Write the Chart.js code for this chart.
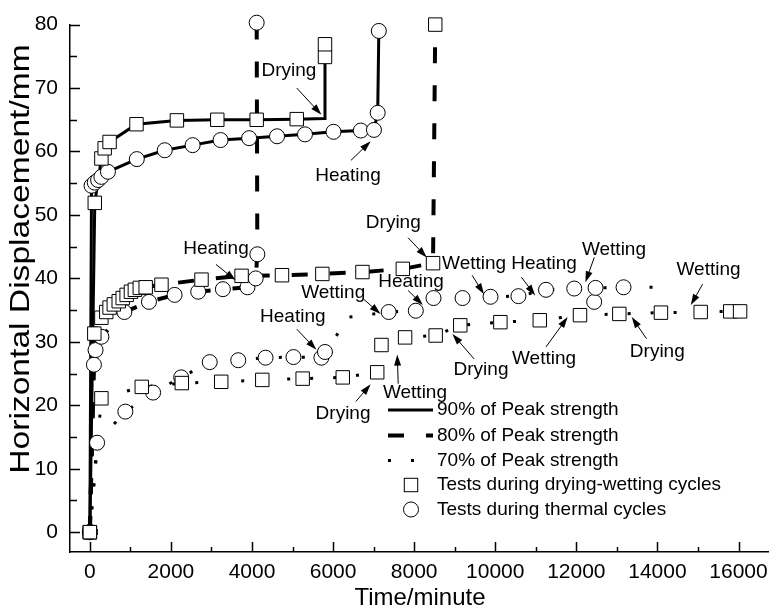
<!DOCTYPE html>
<html>
<head>
<meta charset="utf-8">
<script src="https://cdn.jsdelivr.net/npm/chart.js@4.4.0/dist/chart.umd.min.js"></script>
<style>
  html, body { margin: 0; padding: 0; background: #fff; }
  #wrap { width: 779px; height: 613px; }
</style>
</head>
<body>
<div id="wrap"><canvas id="dispChart"></canvas></div>
<script>
// ---- time (minute) / horizontal displacement (mm) ----
// 90% of peak strength
const t90DW = [0, 121, 284, 365, 486, 1150, 2147, 3143, 4115, 5103, 5790, 5800, 5800];
const d90DW = [0, 51.9, 58.9, 60.5, 61.5, 64.3, 64.9, 65.0, 65.0, 65.1, 65.2, 74.9, 76.9];
const bare90DW = [10];
const t90TH = [0, 41, 121, 203, 284, 446, 1158, 1847, 2535, 3224, 3929, 4617, 5306, 6010, 6683, 7007, 7100, 7128];
const d90TH = [0, 54.6, 55.1, 55.5, 56.0, 56.8, 58.8, 60.2, 61.0, 61.8, 62.1, 62.4, 62.7, 63.1, 63.3, 63.4, 66.1, 79.0];
const bare90TH = [];

// 80% of peak strength
const t80DW = [0, 110, 284, 405, 486, 591, 712, 810, 907, 1013, 1110, 1232, 1377, 1766, 2754, 3742, 4739, 5735, 6724, 7720, 8465, 8520];
const d80DW = [0, 31.3, 33.8, 34.7, 35.4, 35.9, 36.4, 36.9, 37.4, 37.9, 38.2, 38.5, 38.6, 39.0, 39.8, 40.4, 40.5, 40.7, 41.0, 41.5, 42.4, 80.0];
const bare80DW = [];
const t80TH = [0, 100, 140, 284, 851, 1458, 2090, 2673, 3281, 3888, 4091, 4131, 4115];
const d80TH = [0, 26.4, 28.7, 30.8, 34.7, 36.3, 37.4, 37.9, 38.3, 38.6, 40.0, 43.8, 80.3];
const bare80TH = [];

// 70% of peak strength
const t70DW = [0, 284, 1280, 2268, 3240, 4253, 5249, 6238, 7088, 7193, 7776, 8530, 9137, 10126, 11098, 12090, 13060, 14087, 15067, 15796, 16039];
const d70DW = [0, 21.1, 22.9, 23.5, 23.7, 24.0, 24.2, 24.4, 25.2, 29.5, 30.7, 31.0, 32.6, 33.1, 33.4, 34.2, 34.4, 34.6, 34.7, 34.8, 34.8];
const bare70DW = [];
const t70TH = [0, 178, 875, 1560, 2252, 2957, 3660, 4334, 5022, 5711, 5800, 6400, 7371, 8040, 8477, 9194, 9883, 10571, 11252, 11948, 12440, 12474, 13164, 13900];
const d70TH = [0, 14.1, 19.0, 22.0, 24.4, 26.8, 27.1, 27.5, 27.6, 27.5, 28.4, 33.9, 34.7, 34.9, 36.9, 36.9, 37.1, 37.2, 38.2, 38.4, 36.3, 38.5, 38.6, 38.6];
const bare70TH = [11, 23];

const xTicks = [0, 2000, 4000, 6000, 8000, 10000, 12000, 14000, 16000];
const yTicks = [0, 10, 20, 30, 40, 50, 60, 70, 80];

const legendLabels = ['90% of Peak strength', '80% of Peak strength', '70% of Peak strength',
  'Tests during drying-wetting cycles', 'Tests during thermal cycles'];

// cycle notes: text centre, arrow tail, arrow head (data units)
const noteText = ['Drying', 'Heating', 'Heating', 'Drying', 'Wetting', 'Heating', 'Wetting', 'Wetting',
  'Wetting', 'Heating', 'Heating', 'Wetting', 'Drying', 'Drying', 'Wetting', 'Drying'];
const noteAt = [[4909, 72.7], [6367, 56.1], [3111, 44.7], [7485, 48.75], [9478, 42.3], [11203, 42.3], [12928, 44.5], [15261, 41.4],
  [6002, 37.8], [7922, 39.4], [5006, 33.9], [8019, 21.9], [6245, 18.6], [9648, 25.6], [11203, 27.3], [13997, 28.4]];
const noteFrom = [[5103, 70.0], [6440, 58.6], [3111, 42.2], [7849, 46.4], [9429, 40.5], [10644, 40.2], [12442, 43.3], [15115, 39.1],
  [6756, 36.7], [7849, 38.1], [5103, 32.0], [7606, 23.4], [6561, 20.6], [9478, 27.3], [11252, 29.2], [13730, 30.5]];
const noteTo = [[5711, 65.8], [6926, 61.6], [3597, 39.7], [8311, 43.3], [9721, 37.5], [10984, 37.3], [12224, 39.4], [14824, 35.8],
  [7169, 34.4], [8214, 35.8], [5589, 28.75], [7582, 28.0], [6926, 23.3], [8943, 31.25], [11786, 33.9], [13366, 33.9]];

const FONT = '"Liberation Sans", Arial, sans-serif';
const SOLID = [], DASHED = [16, 22], DOTTED = [3, 20];

function pts(t, d) { return t.map((v, i) => ({ x: v, y: d[i] })); }
function marked(t, d, bare) { return pts(t, d).filter((p, i) => !bare.includes(i)); }

function curve(t, d, dash, width) {
  return {
    data: pts(t, d), showLine: true, borderColor: '#000', borderWidth: width,
    borderDash: dash, pointRadius: 0, tension: 0, order: 2, clip: false
  };
}
function marks(t, d, bare, style) {
  return {
    data: marked(t, d, bare), showLine: false, pointStyle: style,
    pointRadius: style === 'rect' ? 9.5 : 7.5, pointBackgroundColor: '#fff',
    pointBorderColor: '#000', pointBorderWidth: 1, order: 1, clip: false
  };
}

function arrow(ctx, x1, y1, x2, y2) {
  const a = Math.atan2(y2 - y1, x2 - x1);
  ctx.beginPath();
  ctx.moveTo(x1, y1);
  ctx.lineTo(x2 - 8 * Math.cos(a), y2 - 8 * Math.sin(a));
  ctx.stroke();
  ctx.beginPath();
  ctx.moveTo(x2, y2);
  ctx.lineTo(x2 - 11 * Math.cos(a) + 3.5 * Math.sin(a), y2 - 11 * Math.sin(a) - 3.5 * Math.cos(a));
  ctx.lineTo(x2 - 11 * Math.cos(a) - 3.5 * Math.sin(a), y2 - 11 * Math.sin(a) + 3.5 * Math.cos(a));
  ctx.closePath();
  ctx.fill();
}

// inward ticks, axis titles, notes and legend
const decor = {
  id: 'decor',
  afterDraw(chart) {
    const { ctx, chartArea: ca, scales: { x, y } } = chart;
    ctx.save();
    ctx.strokeStyle = '#000';
    ctx.fillStyle = '#000';
    ctx.lineWidth = 1.5;
    ctx.beginPath();
    for (let v = 0; v <= 16000; v += 1000) {
      const px = Math.round(x.getPixelForValue(v)) + 0.5;
      ctx.moveTo(px, ca.bottom);
      ctx.lineTo(px, ca.bottom - (v % 2000 === 0 ? 10 : 5));
    }
    for (let v = 0; v <= 80; v += 5) {
      const py = Math.round(y.getPixelForValue(v)) + 0.5;
      ctx.moveTo(ca.left, py);
      ctx.lineTo(ca.left + (v % 10 === 0 ? 10 : 7), py);
    }
    ctx.stroke();

    // axis titles
    ctx.textAlign = 'center';
    ctx.textBaseline = 'middle';
    ctx.font = '24px ' + FONT;
    ctx.fillText('Time/minute', 420, 598);
    ctx.save();
    ctx.translate(21, 259);
    ctx.rotate(-Math.PI / 2);
    ctx.scale(1.2, 1);
    ctx.font = '28px ' + FONT;
    ctx.fillText('Horizontal Displacement/mm', 0, 0);
    ctx.restore();

    // notes with arrows
    ctx.font = '19px ' + FONT;
    ctx.lineWidth = 1;
    noteText.forEach((txt, i) => {
      ctx.fillText(txt, x.getPixelForValue(noteAt[i][0]), y.getPixelForValue(noteAt[i][1]));
      arrow(ctx, x.getPixelForValue(noteFrom[i][0]), y.getPixelForValue(noteFrom[i][1]),
        x.getPixelForValue(noteTo[i][0]), y.getPixelForValue(noteTo[i][1]));
    });

    // legend
    const rows = [410, 435.5, 460.5, 485, 509.5];
    const lx0 = 388, lx1 = 433;
    [[SOLID, 3], [DASHED, 4], [DOTTED, 3]].forEach(([dash, w], i) => {
      ctx.save();
      ctx.lineWidth = w;
      ctx.setLineDash(dash);
      ctx.beginPath();
      ctx.moveTo(lx0, rows[i]);
      ctx.lineTo(lx1, rows[i]);
      ctx.stroke();
      ctx.restore();
    });
    ctx.lineWidth = 1;
    ctx.fillStyle = '#fff';
    ctx.fillRect(411 - 6.7, rows[3] - 6.7, 13.4, 13.4);
    ctx.strokeRect(411 - 6.7, rows[3] - 6.7, 13.4, 13.4);
    ctx.beginPath();
    ctx.arc(411, rows[4], 7.5, 0, Math.PI * 2);
    ctx.fill();
    ctx.stroke();
    ctx.fillStyle = '#000';
    ctx.textAlign = 'left';
    legendLabels.forEach((txt, i) => ctx.fillText(txt, 437, rows[i]));
    ctx.restore();
  }
};

const chart = new Chart(document.getElementById('dispChart').getContext('2d'), {
  type: 'scatter',
  data: {
    datasets: [
      curve(t90DW, d90DW, SOLID, 3), curve(t90TH, d90TH, SOLID, 3),
      curve(t80DW, d80DW, DASHED, 4), curve(t80TH, d80TH, DASHED, 4),
      curve(t70DW, d70DW, DOTTED, 3), curve(t70TH, d70TH, DOTTED, 3),
      marks(t90DW, d90DW, bare90DW, 'rect'), marks(t90TH, d90TH, bare90TH, 'circle'),
      marks(t80DW, d80DW, bare80DW, 'rect'), marks(t80TH, d80TH, bare80TH, 'circle'),
      marks(t70DW, d70DW, bare70DW, 'rect'), marks(t70TH, d70TH, bare70TH, 'circle')
    ]
  },
  options: {
    responsive: true,
    maintainAspectRatio: false,
    animation: false,
    devicePixelRatio: 1,
    layout: { padding: { top: 20, right: 0, left: 0, bottom: 0 } },
    plugins: { legend: { display: false }, tooltip: { enabled: false } },
    scales: {
      x: {
        type: 'linear', min: -490, max: 16740,
        grid: { display: false, drawTicks: false },
        border: { display: true, color: '#000', width: 1.5 },
        ticks: { color: '#000', padding: 8, font: { family: FONT, size: 21 }, callback: v => String(v) },
        afterBuildTicks: s => { s.ticks = xTicks.map(v => ({ value: v })); },
        afterFit: s => { s.height = 61; }
      },
      y: {
        type: 'linear', min: -3.125, max: 80,
        grid: { display: false, drawTicks: false },
        border: { display: true, color: '#000', width: 1.5 },
        ticks: { color: '#000', padding: 12, font: { family: FONT, size: 21 }, callback: v => String(v) },
        afterBuildTicks: s => { s.ticks = yTicks.map(v => ({ value: v })); },
        afterFit: s => { s.width = 70; }
      }
    }
  },
  plugins: [decor]
});
</script>
</body>
</html>
